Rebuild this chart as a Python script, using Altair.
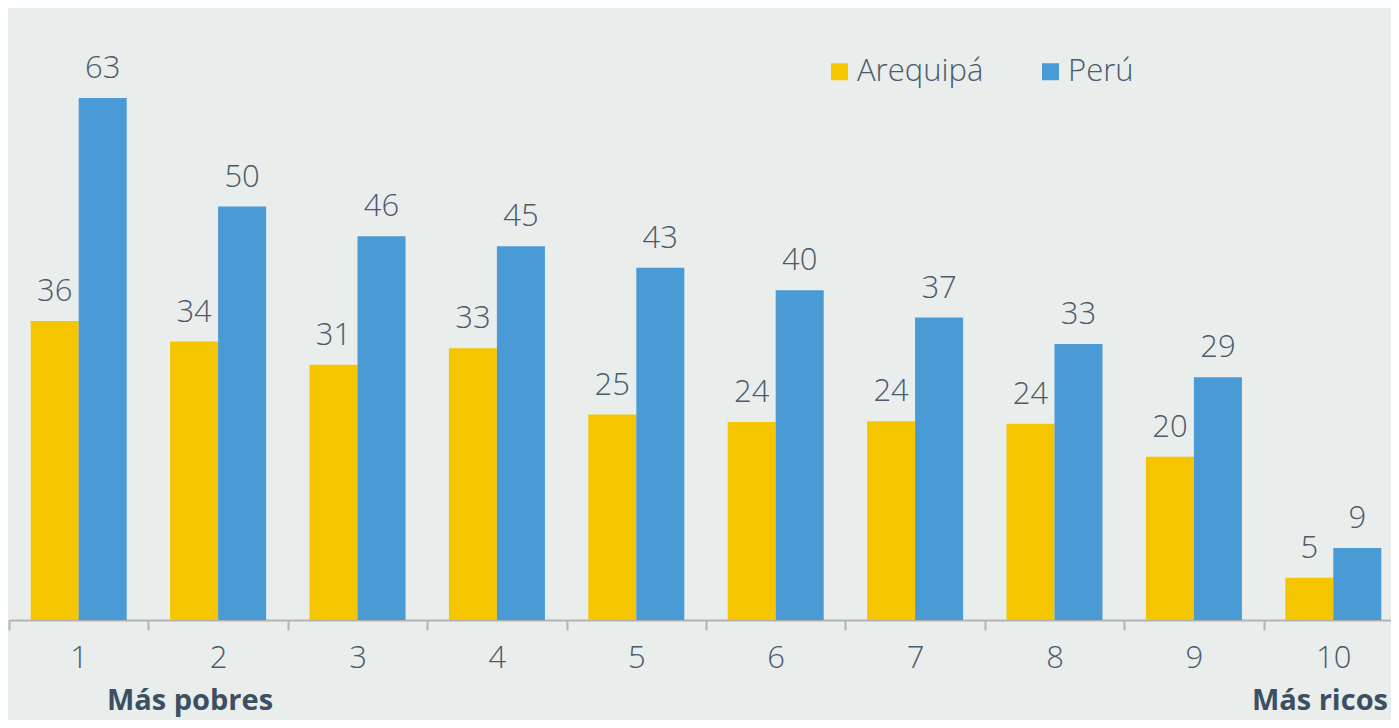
import altair as alt
import pandas as pd

# ---- data ----
deciles = ["1", "2", "3", "4", "5", "6", "7", "8", "9", "10"]
series = ["Arequipá", "Perú"]
arequipa = [36.1, 33.6, 30.8, 32.8, 24.8, 23.9, 24.0, 23.7, 19.7, 5.1]
peru = [63.0, 49.9, 46.3, 45.1, 42.5, 39.8, 36.5, 33.3, 29.3, 8.7]
arequipa_labels = ["36", "34", "31", "33", "25", "24", "24", "24", "20", "5"]
peru_labels = ["63", "50", "46", "45", "43", "40", "37", "33", "29", "9"]
colors = ["#f5c600", "#4a9ad6"]
note_left = ["Más pobres"]
note_right = ["Más ricos"]

rows = []
for i, d in enumerate(deciles):
    rows.append({"decil": d, "serie": series[0], "valor": arequipa[i], "etiqueta": arequipa_labels[i]})
    rows.append({"decil": d, "serie": series[1], "valor": peru[i], "etiqueta": peru_labels[i]})
df = pd.DataFrame(rows)

FONT = "Open Sans"
TEXT = "#4b5a6c"
BOLD = "#3d4f63"
AXIS = "#b3b3b3"

x = alt.X(
    "decil:N",
    sort=deciles,
    scale=alt.Scale(range=[0, 1394], paddingInner=0, paddingOuter=0, round=False),
    axis=alt.Axis(
        title=None, labelAngle=0, tickBand="extent",
        domainColor=AXIS, domainWidth=2, tickColor=AXIS, tickWidth=2, tickSize=10,
        labelFont=FONT, labelFontSize=31, labelFontWeight=300, labelColor=TEXT,
        labelPadding=13, grid=False,
    ),
)
xo = alt.XOffset("serie:N", sort=series, scale=alt.Scale(paddingInner=0, paddingOuter=0.452, round=False))
y = alt.Y("valor:Q", scale=alt.Scale(domain=[0, 70]), axis=None)
color = alt.Color(
    "serie:N",
    sort=series,
    scale=alt.Scale(domain=series, range=colors),
    legend=alt.Legend(
        title=None, orient="none", legendX=815, legendY=16, direction="horizontal",
        symbolType="square", symbolSize=289, symbolStrokeWidth=0, symbolOpacity=1,
        labelFont=FONT, labelFontSize=31, labelFontWeight=300, labelColor=TEXT,
        columnPadding=51, labelOffset=2,
    ),
)

bars = alt.Chart(df).mark_bar().encode(x=x, xOffset=xo, y=y, color=color)
labels = alt.Chart(df).mark_text(
    dy=-20, baseline="alphabetic", font=FONT, fontSize=31, fontWeight=300, color=TEXT
).encode(x=x, xOffset=xo, y=y, text="etiqueta:N")

left_note = alt.Chart(pd.DataFrame({"t": note_left})).mark_text(
    align="center", baseline="alphabetic", font=FONT, fontSize=29, fontWeight="bold", color=BOLD
).encode(x=alt.value(181), y=alt.value(670), text="t:N")
right_note = alt.Chart(pd.DataFrame({"t": note_right})).mark_text(
    align="right", baseline="alphabetic", font=FONT, fontSize=29, fontWeight="bold", color=BOLD
).encode(x=alt.value(1379), y=alt.value(670), text="t:N")

chart = (
    alt.layer(bars, labels, left_note, right_note)
    .properties(
        width=1382, height=580,
        autosize=alt.AutoSizeParams(type="none"),
        padding={"left": 1, "top": 32, "right": 0, "bottom": 100},
        background="#e9edec",
    )
    .configure_view(stroke=None)
)

chart.save("out.html", embed_options={"renderer": "svg", "actions": False})
